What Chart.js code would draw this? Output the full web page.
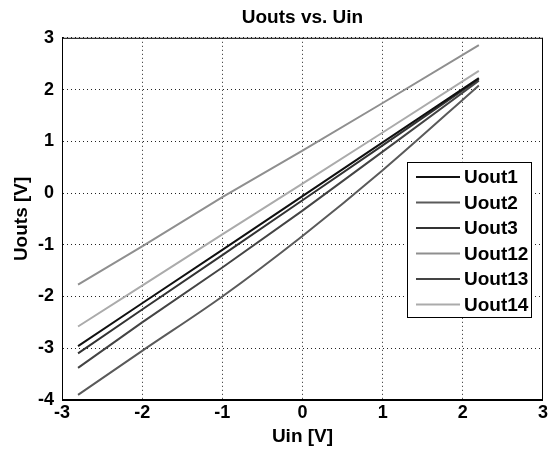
<!DOCTYPE html>
<html>
<head>
<meta charset="utf-8">
<script src="https://cdn.jsdelivr.net/npm/chart.js@4"></script>
<style>
  body { margin: 0; background: #fff; }
  canvas { display: block; }
</style>
</head>
<body>
<canvas id="uoutChart" width="550" height="451"></canvas>
<script>
// values (Uin in V, Uout in V)
const seriesNames = ['Uout1', 'Uout2', 'Uout3', 'Uout12', 'Uout13', 'Uout14'];
const seriesColors = ['#111111', '#5a5a5a', '#333333', '#8f8f8f', '#444444', '#ababab'];

const uinLinear = [-2.8, -2, -1, 0, 1, 2.2];
const uout1 = [-2.96, -2.13, -1.10, -0.06, 0.98, 2.22];
const uout3 = [-3.10, -2.25, -1.20, -0.14, 0.92, 2.20];
const uout12 = [-1.77, -1.03, -0.08, 0.82, 1.74, 2.86];
const uout13 = [-3.38, -2.50, -1.44, -0.34, 0.80, 2.17];
const uout14 = [-2.58, -1.79, -0.80, 0.18, 1.17, 2.36];

const uinCurve = [-2.8, -2, -1, 0, 1, 2.2];
const uout2 = [-3.90, -3.05, -2.00, -0.83, 0.44, 2.08];

const xTicks = [-3, -2, -1, 0, 1, 2, 3];
const yTicks = [-4, -3, -2, -1, 0, 1, 2, 3];

function toPoints(xs, ys) {
    return xs.map((x, i) => ({ x: x, y: ys[i] }));
}

const seriesData = [
    toPoints(uinLinear, uout1),
    toPoints(uinCurve, uout2),
    toPoints(uinLinear, uout3),
    toPoints(uinLinear, uout12),
    toPoints(uinLinear, uout13),
    toPoints(uinLinear, uout14)
];

const fontFamily = '"Liberation Sans", Arial, sans-serif';

// box around the plot area
const frameBox = {
    id: 'frameBox',
    afterDatasetsDraw(chart) {
        const a = chart.chartArea;
        const ctx = chart.ctx;
        ctx.save();
        ctx.strokeStyle = '#000';
        ctx.lineWidth = 1;
        ctx.strokeRect(a.left + 0.5, a.top + 0.5, a.right - a.left - 1, a.bottom - a.top - 1);
        ctx.restore();
    }
};

// matlab style legend inside the axes
const innerLegend = {
    id: 'innerLegend',
    afterDraw(chart) {
        const ctx = chart.ctx;
        const boxLeft = 407, boxTop = 162, boxW = 125, boxH = 156;
        ctx.save();
        ctx.fillStyle = '#fff';
        ctx.fillRect(boxLeft, boxTop, boxW, boxH);
        ctx.strokeStyle = '#000';
        ctx.lineWidth = 1;
        ctx.strokeRect(boxLeft + 0.5, boxTop + 0.5, boxW - 1, boxH - 1);
        ctx.font = 'bold 19px ' + fontFamily;
        ctx.textBaseline = 'middle';
        chart.data.datasets.forEach((ds, i) => {
            const y = boxTop + 15 + i * 25.5;
            ctx.strokeStyle = ds.borderColor;
            ctx.lineWidth = 2;
            ctx.beginPath();
            ctx.moveTo(boxLeft + 9, y);
            ctx.lineTo(boxLeft + 53, y);
            ctx.stroke();
            ctx.fillStyle = '#000';
            ctx.fillText(ds.label, boxLeft + 57, y + 1);
        });
        ctx.restore();
    }
};

const ctx = document.getElementById('uoutChart').getContext('2d');
const uoutChart = new Chart(ctx, {
    type: 'scatter',
    data: {
        datasets: seriesNames.map((name, i) => ({
            label: name,
            data: seriesData[i],
            showLine: true,
            borderColor: seriesColors[i],
            backgroundColor: seriesColors[i],
            borderWidth: 2,
            pointRadius: 0,
            tension: name === 'Uout2' ? 0.35 : 0
        }))
    },
    options: {
        responsive: false,
        animation: false,
        layout: { padding: { left: 0, right: 0, top: 0, bottom: 0 } },
        plugins: {
            legend: { display: false },
            tooltip: { enabled: false },
            title: {
                display: true,
                fullSize: false,
                text: 'Uouts vs. Uin',
                color: '#000',
                font: { family: fontFamily, size: 19, weight: 'bold' },
                padding: { top: 6, bottom: 9 }
            }
        },
        scales: {
            x: {
                type: 'linear',
                min: -3,
                max: 3,
                afterBuildTicks: s => { s.ticks = xTicks.map(v => ({ value: v })); },
                afterFit: s => { s.height = 51; },
                ticks: {
                    color: '#000',
                    padding: 2,
                    font: { family: fontFamily, size: 18, weight: 'bold' }
                },
                grid: {
                    color: '#222',
                    lineWidth: 1,
                    drawTicks: false
                },
                border: { display: true, color: '#000', dash: [1, 3] },
                title: {
                    display: true,
                    text: 'Uin [V]',
                    color: '#000',
                    font: { family: fontFamily, size: 19, weight: 'bold' },
                    padding: { top: 0, bottom: 3 }
                }
            },
            y: {
                type: 'linear',
                min: -4,
                max: 3,
                afterBuildTicks: s => { s.ticks = yTicks.map(v => ({ value: v })); },
                afterFit: s => { s.width = 62; },
                ticks: {
                    color: '#000',
                    padding: 8,
                    font: { family: fontFamily, size: 18, weight: 'bold' }
                },
                grid: {
                    color: '#222',
                    lineWidth: 1,
                    drawTicks: false
                },
                border: { display: true, color: '#000', dash: [1, 3] },
                title: {
                    display: true,
                    text: 'Uouts [V]',
                    color: '#000',
                    font: { family: fontFamily, size: 19, weight: 'bold' },
                    padding: { top: 10, bottom: 0 }
                }
            }
        }
    },
    plugins: [frameBox, innerLegend]
});
</script>
</body>
</html>
